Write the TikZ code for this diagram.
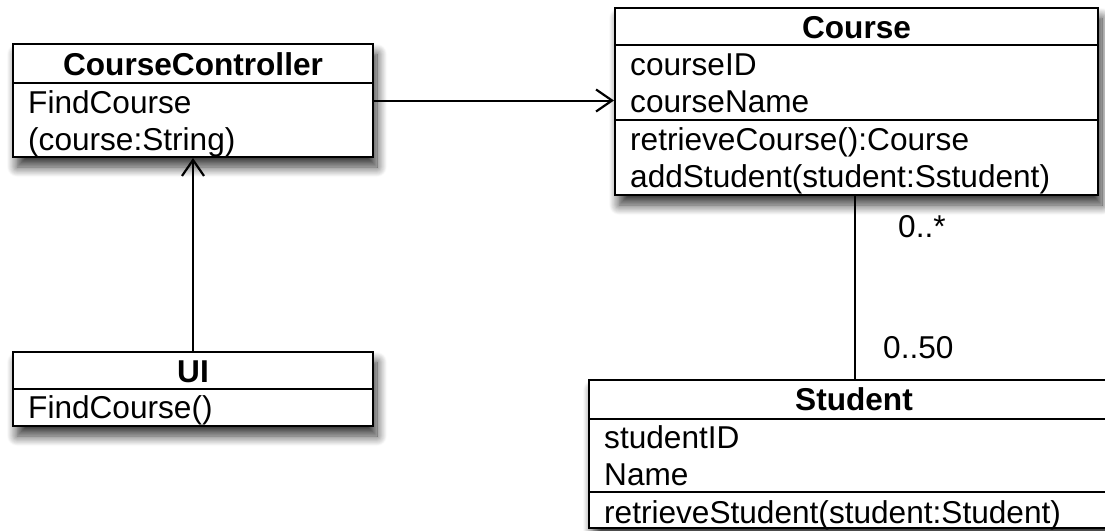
\documentclass[tikz,border=0pt]{standalone}
\usepackage{fontspec}
\setmainfont{Liberation Sans}
\usetikzlibrary{arrows.meta,shadows.blur}
\begin{document}
\begin{tikzpicture}[x=1pt,y=-1pt,
  classbox/.style={draw, fill=white, line width=2pt, inner sep=0pt,
    blur shadow={shadow xshift=4pt, shadow yshift=-10pt, shadow blur radius=10pt, shadow blur steps=12, shadow opacity=80}},
  sep/.style={line width=2pt},
  txt/.style={anchor=base west, inner sep=0pt, font=\fontsize{31.6}{37}\selectfont},
  head/.style={anchor=base, inner sep=0pt, font=\fontsize{31.6}{37}\selectfont\bfseries},
  lbl/.style={anchor=base west, inner sep=0pt, font=\fontsize{31.6}{37}\selectfont},
  conn/.style={line width=2pt},
  tip/.style={-{Straight Barb[length=16pt,width=22pt,line width=2.2pt]}}
]
\useasboundingbox (0,0) rectangle (1105,530);
% boxes
\node[classbox, minimum width=360pt, minimum height=113pt] (cc) at (193,100.5) {};
\node[classbox, minimum width=483pt, minimum height=187pt] (course) at (856.5,101.5) {};
\node[classbox, minimum width=360pt, minimum height=74pt] (ui) at (193,389) {};
\node[classbox, minimum width=530pt, minimum height=148pt] (student) at (854,454) {};
% separators
\draw[sep] (13,83) -- (373,83);
\draw[sep] (615,45) -- (1098,45);
\draw[sep] (615,120) -- (1098,120);
\draw[sep] (13,389) -- (373,389);
\draw[sep] (589,419) -- (1119,419);
\draw[sep] (589,492) -- (1119,492);
% texts
\node[head] (cch) at (193,75) {CourseController};
\node[txt] (cc1) at (28,113) {FindCourse};
\node[txt] (cc2) at (28,150) {(course:String)};
\node[head] (coh) at (856.5,38) {Course};
\node[txt] (co1) at (630,75) {courseID};
\node[txt] (co2) at (630,112) {courseName};
\node[txt] (co3) at (630,150) {retrieveCourse():Course};
\node[txt] (co4) at (630,187) {addStudent(student:Sstudent)};
\node[head] (uih) at (193,382) {UI};
\node[txt] (ui1) at (28,418) {FindCourse()};
\node[head] (sth) at (854,410) {Student};
\node[txt] (st1) at (604,448) {studentID};
\node[txt] (st2) at (604,485) {Name};
\node[txt] (st3) at (604,523) {retrieveStudent(student:Student)};
% connectors
\draw[conn, tip] (cc.east) -- (cc.east -| course.west);
\draw[conn, tip] (ui.north) -- (cc.south);
\draw[conn] (855,0 |- course.south) coordinate (ca) -- (ca |- student.north);
% multiplicities
\node[lbl] (m1) at (898,237) {0..*};
\node[lbl] (m2) at (883,358) {0..50};
\end{tikzpicture}
\end{document}
